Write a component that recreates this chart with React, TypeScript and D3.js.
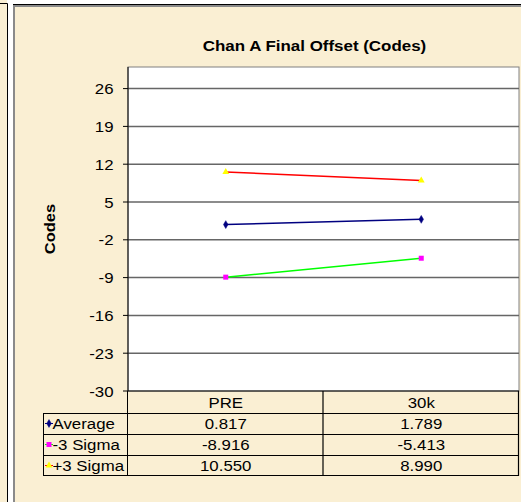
import React from 'react';
import * as d3 from 'd3';

const categories = ['PRE', '30k'];
const average = [0.817, 1.789];
const minus3Sigma = [-8.916, -5.413];
const plus3Sigma = [10.55, 8.99];
const yTicks = [-30, -23, -16, -9, -2, 5, 12, 19, 26];

const series = [
  { name: 'Average', values: average, line: '#000080', marker: '#000080', shape: 'diamond' },
  { name: '-3 Sigma', values: minus3Sigma, line: '#00ff00', marker: '#ff00ff', shape: 'square' },
  { name: '+3 Sigma', values: plus3Sigma, line: '#ff0000', marker: '#ffff00', shape: 'triangle' },
];

const W = 521;
const H = 502;
const FONT = "'Liberation Sans', Arial, sans-serif";
const BG = '#faefd3';

// Excel stretches its text a bit horizontally
const T = ({ x, y, anchor = 'middle', size = 15, bold = false, rotate = 0, children }: any) => (
  <text
    transform={`translate(${x},${y}) rotate(${rotate}) scale(1.1,1)`}
    textAnchor={anchor}
    fontSize={size}
    fontWeight={bold ? 'bold' : 'normal'}
    fontFamily={FONT}
    fill="#000"
  >
    {children}
  </text>
);

const Marker = ({ x, y, shape, color }: any) => {
  const sym =
    shape === 'diamond' ? d3.symbolDiamond : shape === 'square' ? d3.symbolSquare : d3.symbolTriangle;
  const size = shape === 'diamond' ? 18 : shape === 'square' ? 25 : 20;
  return (
    <path
      d={d3.symbol().type(sym).size(size)() || ''}
      transform={`translate(${x},${y})`}
      fill={color}
      stroke={shape === 'diamond' ? color : 'none'}
      strokeWidth={0.5}
    />
  );
};

export default function App() {
  const plot = { left: 128, right: 519, top: 67, bottom: 391 };

  const x = d3.scaleBand<string>().domain(categories).range([plot.left, plot.right]);
  const y = d3.scaleLinear().domain([-30, 30]).range([plot.bottom, plot.top]);
  const cx = (c: string) => (x(c) || 0) + x.bandwidth() / 2;

  const line = d3
    .line<number>()
    .x((_, i) => cx(categories[i]))
    .y((d) => y(d));

  // data table geometry
  const tableLeft = 43;
  const rowH = 21;
  const headerBottom = 413;
  const rowY = (i: number) => headerBottom + i * rowH;
  const tableBottom = rowY(series.length) - 1;
  const colEdges = [plot.left, ...categories.map((c) => (x(c) || 0) + x.bandwidth())];

  return (
    <svg
      width={W}
      height={H}
      style={{ position: 'absolute', left: 0, top: 0, background: '#fff' }}
    >
      {/* left strip of the neighbouring sheet object */}
      <rect x={0} y={0} width={7} height={H} fill={BG} />
      <line x1={0} x2={7.5} y1={3.5} y2={3.5} stroke="#000" />
      <line x1={7.5} x2={7.5} y1={3.5} y2={H} stroke="#000" />

      {/* chart area */}
      <rect x={13} y={4} width={W - 13} height={H - 4} fill={BG} />
      <line x1={13} x2={W} y1={4.5} y2={4.5} stroke="#000" />
      <rect x={15} y={5} width={W - 15} height={2} fill="#8a8a8a" />
      <rect x={13} y={5} width={2} height={H - 5} fill="#8a8a8a" />

      <T x={314.5} y={51} size={15.4} bold>
        Chan A Final Offset (Codes)
      </T>
      <T x={55} y={229} size={15} bold rotate={-90}>
        Codes
      </T>

      {/* plot area */}
      <rect
        x={plot.left}
        y={plot.top}
        width={plot.right - plot.left}
        height={plot.bottom - plot.top}
        fill="#fff"
        stroke="#808080"
      />
      {yTicks.map((t) => (
        <g key={t}>
          {t !== -30 && (
            <line x1={plot.left} x2={plot.right} y1={y(t)} y2={y(t)} stroke="#666" strokeWidth={1.5} />
          )}
          <line x1={plot.left - 5} x2={plot.left} y1={y(t)} y2={y(t)} stroke="#000" />
          <T x={113.5} y={y(t) + 5.5} anchor="end" size={15.3}>
            {t}
          </T>
        </g>
      ))}
      <line x1={plot.left} x2={plot.left} y1={plot.top} y2={plot.bottom} stroke="#000" />
      <line x1={plot.left} x2={plot.right} y1={plot.bottom} y2={plot.bottom} stroke="#000" />

      {series.map((s) => (
        <g key={s.name}>
          <path d={line(s.values) || ''} fill="none" stroke={s.line} strokeWidth={1.5} />
          {s.values.map((v, i) => (
            <Marker key={i} x={cx(categories[i])} y={y(v)} shape={s.shape} color={s.marker} />
          ))}
        </g>
      ))}

      {/* data table */}
      {categories.map((c) => (
        <T key={c} x={cx(c)} y={headerBottom - 5.5} size={15.3}>
          {c}
        </T>
      ))}
      {series.map((s, r) => (
        <g key={s.name}>
          <line x1={tableLeft} x2={plot.right} y1={rowY(r) + 0.5} y2={rowY(r) + 0.5} stroke="#000" />
          <line x1={tableLeft + 2} x2={tableLeft + 10} y1={rowY(r) + 10.5} y2={rowY(r) + 10.5} stroke={s.line} />
          <Marker x={tableLeft + 6} y={rowY(r) + 10.5} shape={s.shape} color={s.marker} />
          <T x={tableLeft + 9.5} y={rowY(r) + 16} anchor="start" size={15.3}>
            {s.name}
          </T>
          {s.values.map((v, i) => (
            <T key={i} x={cx(categories[i])} y={rowY(r) + 16} size={15.3}>
              {v.toFixed(3)}
            </T>
          ))}
        </g>
      ))}
      <line x1={tableLeft} x2={plot.right} y1={tableBottom + 0.5} y2={tableBottom + 0.5} stroke="#000" />
      <line x1={tableLeft + 0.5} x2={tableLeft + 0.5} y1={headerBottom} y2={tableBottom + 1} stroke="#000" />
      {colEdges.map((e, i) => (
        <line
          key={i}
          x1={e - 0.5}
          x2={e - 0.5}
          y1={plot.bottom}
          y2={tableBottom + 1}
          stroke="#000"
          strokeWidth={i === 0 ? 1 : 1.2}
        />
      ))}
    </svg>
  );
}
